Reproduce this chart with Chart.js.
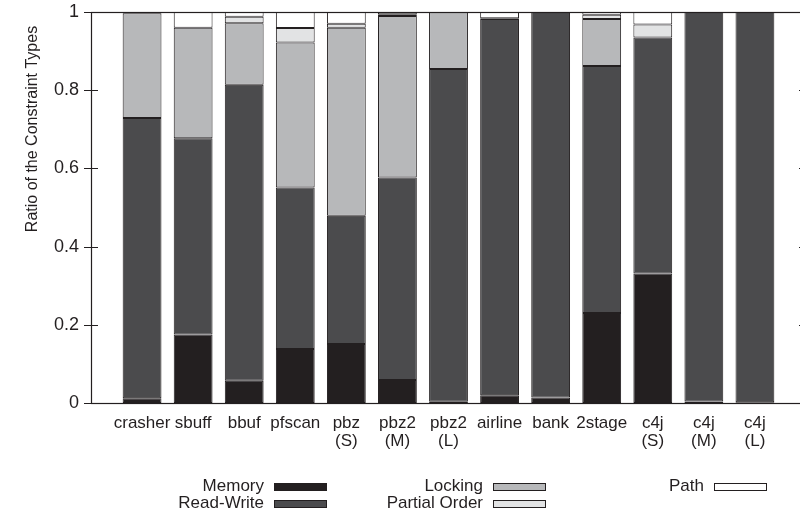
<!DOCTYPE html>
<html><head><meta charset="utf-8">
<script src="https://cdn.jsdelivr.net/npm/chart.js@4/dist/chart.umd.min.js"></script>
<style>
html,body{margin:0;padding:0;overflow:hidden;background:#fff;width:800px;height:512px}
#wrap{position:absolute;left:0;top:0;width:808px;height:512px}
</style>
</head><body><div id="wrap"><canvas id="c"></canvas></div>
<script>
// ---- data ----
const categories = [["crasher"],["sbuff"],["bbuf"],["pfscan"],["pbz","(S)"],["pbz2","(M)"],["pbz2","(L)"],["airline"],["bank"],["2stage"],["c4j","(S)"],["c4j","(M)"],["c4j","(L)"]];
const memory       = [0.012, 0.175, 0.057, 0.138, 0.151, 0.059, 0.003, 0.020, 0.014, 0.230, 0.331, 0.004, 0.002];
const readWrite    = [0.717, 0.502, 0.757, 0.413, 0.328, 0.518, 0.851, 0.962, 0.986, 0.632, 0.604, 0.996, 0.998];
const locking      = [0.268, 0.283, 0.157, 0.371, 0.481, 0.413, 0.146, 0.002, 0.000, 0.120, 0.000, 0.000, 0.000];
const partialOrder = [0.000, 0.000, 0.017, 0.037, 0.010, 0.004, 0.000, 0.000, 0.000, 0.011, 0.033, 0.000, 0.000];
const path         = [0.003, 0.040, 0.012, 0.041, 0.030, 0.006, 0.000, 0.016, 0.000, 0.007, 0.032, 0.000, 0.000];
const seriesNames  = ["Memory","Read-Write","Locking","Partial Order","Path"];
const yTicks       = [0, 0.2, 0.4, 0.6, 0.8, 1];
const yTitle       = "Ratio of the Constraint Types";

const seriesValues = [memory, readWrite, locking, partialOrder, path];
const seriesColors = ["#231f20", "#4b4b4d", "#b7b8ba", "#e2e3e4", "#ffffff"];
const INK = "#231f20";
const FONT = "'Liberation Sans', Arial, Helvetica, sans-serif";

const datasets = seriesValues.map((vals, s) => ({
  label: seriesNames[s],
  data: vals.map((v, i) => ({ x: i, y: v })),
  backgroundColor: seriesColors[s],
  borderColor: INK,
  borderWidth: 1,
  borderSkipped: false,
  categoryPercentage: 1,
  barPercentage: 0.76
}));

const framePlugin = {
  id: 'frame',
  afterDatasetsDraw(chart) {
    const { ctx, chartArea: a, scales } = chart;
    ctx.save();
    ctx.strokeStyle = INK;
    ctx.lineWidth = 1.2;
    ctx.strokeRect(a.left + 0.5, a.top + 0.5, a.right - a.left - 1, a.bottom - a.top);
    ctx.beginPath();
    yTicks.forEach(v => {
      const py = Math.round(scales.y.getPixelForValue(v)) + 0.5;
      ctx.moveTo(a.left - 7, py); ctx.lineTo(a.left + 7, py);
      ctx.moveTo(a.right - 7, py); ctx.lineTo(a.right, py);
    });
    ctx.stroke();
    ctx.restore();
  }
};

const legendPlugin = {
  id: 'customLegend',
  afterDraw(chart, args, opts) {
    const { ctx } = chart;
    ctx.save();
    ctx.font = `17px ${FONT}`;
    ctx.textAlign = 'right';
    ctx.textBaseline = 'alphabetic';
    chart.data.datasets.forEach((ds, i) => {
      const col = Math.floor(i / 2), row = i % 2;
      const sx = opts.cols[col], sy = opts.rows[row];
      ctx.fillStyle = ds.backgroundColor;
      ctx.fillRect(sx, sy, opts.w, opts.h);
      ctx.strokeStyle = INK;
      ctx.lineWidth = 1;
      ctx.strokeRect(sx + 0.5, sy + 0.5, opts.w - 1, opts.h - 1);
      ctx.fillStyle = INK;
      ctx.fillText(ds.label, sx - 10, sy + 7.5);
    });
    // y-axis title
    ctx.font = `16px ${FONT}`;
    ctx.textAlign = 'center';
    ctx.translate(36.5, 129);
    ctx.rotate(-Math.PI / 2);
    ctx.fillText(yTitle, 0, 0);
    ctx.restore();
  }
};

new Chart(document.getElementById('c'), {
  type: 'bar',
  data: { datasets },
  plugins: [framePlugin, legendPlugin],
  options: {
    responsive: true,
    maintainAspectRatio: false,
    devicePixelRatio: 1,
    animation: false,
    layout: { padding: { left: 0, right: 2, top: 12, bottom: 0 } },
    plugins: {
      legend: { display: false },
      tooltip: { enabled: false },
      customLegend: { cols: [274, 493, 714], rows: [483, 500], w: 53, h: 8 }
    },
    scales: {
      x: {
        type: 'linear',
        offset: false,
        min: -1, max: 13,
        stacked: true,
        grid: { display: false, drawTicks: false, offset: false },
        border: { display: false },
        afterFit(s) { s.height = 109; s.paddingLeft = 0; s.paddingRight = 0; s.paddingTop = 0; s.paddingBottom = 0; },
        afterBuildTicks(s) { s.ticks = categories.map((_, i) => ({ value: i })); },
        ticks: {
          autoSkip: false, maxRotation: 0, minRotation: 0,
          padding: 11,
          color: INK,
          font: { family: FONT, size: 17, lineHeight: 1.08 },
          callback: (v) => categories[v] || ''
        }
      },
      y: {
        min: 0, max: 1,
        stacked: true,
        grid: { display: false, drawTicks: false },
        border: { display: false },
        afterFit(s) { s.width = 91; s.paddingTop = 0; s.paddingBottom = 0; s.paddingLeft = 0; s.paddingRight = 0; },
        afterBuildTicks(s) { s.ticks = yTicks.map(v => ({ value: v })); },
        ticks: {
          padding: 12,
          color: INK,
          font: { family: FONT, size: 18 },
          callback: (v) => String(v)
        }
      }
    }
  }
});
</script>
</body></html>
